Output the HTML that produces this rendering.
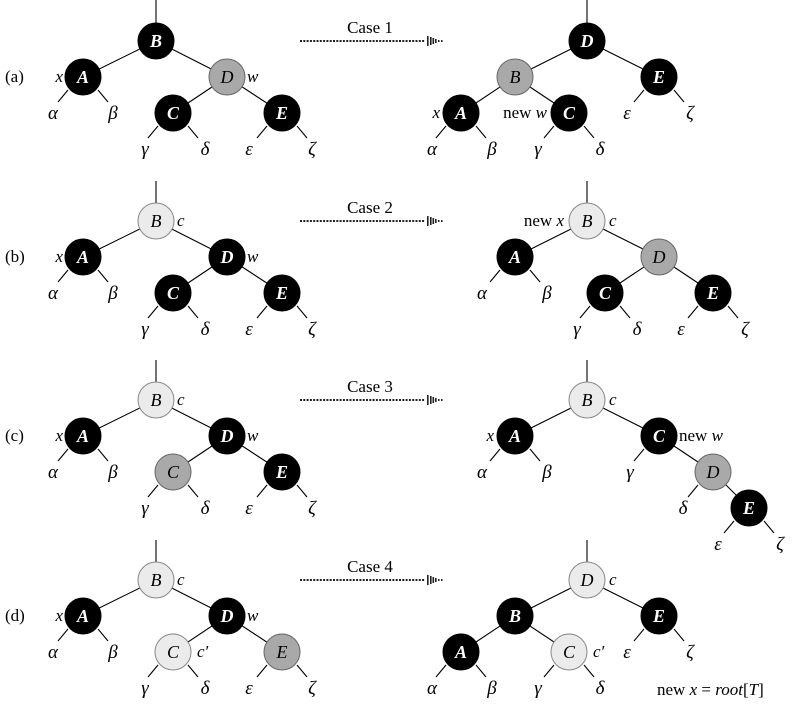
<!DOCTYPE html>
<html><head><meta charset="utf-8"><style>
html,body{margin:0;padding:0;background:#fff;}
svg{display:block;}
.n{font:bold italic 18px "Liberation Serif",serif;fill:#fff;text-anchor:middle;}
.gn{font:italic 18px "Liberation Serif",serif;fill:#000;text-anchor:middle;}
.g{font:italic 19px "Liberation Serif",serif;fill:#000;text-anchor:middle;}
.t{font:italic 17px "Liberation Serif",serif;fill:#000;}
.r{font:17px "Liberation Serif",serif;fill:#000;}
.m{text-anchor:middle;}
.e{text-anchor:end;}
line{stroke:#000;stroke-width:1.1;}
.bk{fill:#000;stroke:#000;}
.gr{fill:#a9a9a9;stroke:#666;stroke-width:1;}
.lt{fill:#ebebeb;stroke:#888;stroke-width:1;}
</style></head><body>
<svg width="793" height="709" viewBox="0 0 793 709" xmlns="http://www.w3.org/2000/svg">
<defs>
<g id="arr">
<line x1="300" y1="0" x2="425" y2="0" style="stroke:#222;stroke-width:2;stroke-dasharray:2 1.3"/>
<rect x="427" y="-5" width="1.6" height="10" fill="#222"/>
<rect x="430" y="-4" width="1.6" height="8" fill="#222"/>
<rect x="432.5" y="-3" width="1.6" height="6" fill="#222"/>
<rect x="435" y="-2" width="1.6" height="4" fill="#222"/>
<rect x="438" y="-1" width="1.5" height="2" fill="#222"/>
<rect x="441" y="-1" width="1.5" height="2" fill="#222"/>
</g>
</defs>

<!-- ===== Row (a) ===== -->
<text class="r" x="5" y="82">(a)</text>
<text class="r m" x="370" y="33">Case 1</text>
<use href="#arr" transform="translate(0,41)"/>
<line x1="156" y1="0" x2="156" y2="23"/>
<line x1="156" y1="41" x2="83" y2="77"/><line x1="156" y1="41" x2="227" y2="77"/>
<line x1="227" y1="77" x2="173" y2="113"/><line x1="227" y1="77" x2="282" y2="113"/>
<line x1="68" y1="90" x2="58" y2="102"/><line x1="98" y1="90" x2="108" y2="102"/>
<line x1="158" y1="126" x2="148" y2="138"/><line x1="188" y1="126" x2="198" y2="138"/>
<line x1="267" y1="126" x2="257" y2="138"/><line x1="297" y1="126" x2="307" y2="138"/>
<circle class="bk" cx="156" cy="41" r="18"/><text class="n" x="156" y="47">B</text>
<circle class="bk" cx="83" cy="77" r="18"/><text class="n" x="83" y="83">A</text>
<circle class="gr" cx="227" cy="77" r="18"/><text class="gn" x="227" y="83">D</text>
<circle class="bk" cx="173" cy="113" r="18"/><text class="n" x="173" y="119">C</text>
<circle class="bk" cx="282" cy="113" r="18"/><text class="n" x="282" y="119">E</text>
<text class="t e" x="63" y="82">x</text><text class="t" x="247" y="82">w</text>
<text class="g" x="53" y="119">α</text><text class="g" x="113" y="119">β</text>
<text class="g" x="145" y="155">γ</text><text class="g" x="205" y="155">δ</text>
<text class="g" x="249" y="155">ε</text><text class="g" x="312" y="155">ζ</text>
<line x1="587" y1="0" x2="587" y2="23"/>
<line x1="587" y1="41" x2="515" y2="77"/><line x1="587" y1="41" x2="659" y2="77"/>
<line x1="515" y1="77" x2="461" y2="113"/><line x1="515" y1="77" x2="569" y2="113"/>
<line x1="446" y1="126" x2="436" y2="138"/><line x1="476" y1="126" x2="486" y2="138"/>
<line x1="554" y1="126" x2="544" y2="138"/><line x1="584" y1="126" x2="594" y2="138"/>
<line x1="644" y1="90" x2="634" y2="102"/><line x1="674" y1="90" x2="684" y2="102"/>
<circle class="bk" cx="587" cy="41" r="18"/><text class="n" x="587" y="47">D</text>
<circle class="gr" cx="515" cy="77" r="18"/><text class="gn" x="515" y="83">B</text>
<circle class="bk" cx="659" cy="77" r="18"/><text class="n" x="659" y="83">E</text>
<circle class="bk" cx="461" cy="113" r="18"/><text class="n" x="461" y="119">A</text>
<circle class="bk" cx="569" cy="113" r="18"/><text class="n" x="569" y="119">C</text>
<text class="t e" x="440" y="118">x</text>
<text class="r e" x="547" y="118">new <tspan font-style="italic">w</tspan></text>
<text class="g" x="432" y="155">α</text><text class="g" x="492" y="155">β</text>
<text class="g" x="538" y="155">γ</text><text class="g" x="600" y="155">δ</text>
<text class="g" x="627" y="119">ε</text><text class="g" x="690" y="119">ζ</text>

<!-- ===== Row (b) ===== -->
<text class="r" x="5" y="262">(b)</text>
<text class="r m" x="370" y="213">Case 2</text>
<use href="#arr" transform="translate(0,221)"/>
<line x1="156" y1="181" x2="156" y2="203"/>
<line x1="156" y1="221" x2="83" y2="257"/><line x1="156" y1="221" x2="227" y2="257"/>
<line x1="227" y1="257" x2="173" y2="293"/><line x1="227" y1="257" x2="282" y2="293"/>
<line x1="68" y1="270" x2="58" y2="282"/><line x1="98" y1="270" x2="108" y2="282"/>
<line x1="158" y1="306" x2="148" y2="318"/><line x1="188" y1="306" x2="198" y2="318"/>
<line x1="267" y1="306" x2="257" y2="318"/><line x1="297" y1="306" x2="307" y2="318"/>
<circle class="lt" cx="156" cy="221" r="18"/><text class="gn" x="156" y="227">B</text>
<circle class="bk" cx="83" cy="257" r="18"/><text class="n" x="83" y="263">A</text>
<circle class="bk" cx="227" cy="257" r="18"/><text class="n" x="227" y="263">D</text>
<circle class="bk" cx="173" cy="293" r="18"/><text class="n" x="173" y="299">C</text>
<circle class="bk" cx="282" cy="293" r="18"/><text class="n" x="282" y="299">E</text>
<text class="t e" x="63" y="262">x</text><text class="t" x="247" y="262">w</text>
<text class="t" x="177" y="226">c</text>
<text class="g" x="53" y="299">α</text><text class="g" x="113" y="299">β</text>
<text class="g" x="145" y="335">γ</text><text class="g" x="205" y="335">δ</text>
<text class="g" x="249" y="335">ε</text><text class="g" x="312" y="335">ζ</text>
<line x1="587" y1="181" x2="587" y2="203"/>
<line x1="587" y1="221" x2="515" y2="257"/><line x1="587" y1="221" x2="659" y2="257"/>
<line x1="659" y1="257" x2="605" y2="293"/><line x1="659" y1="257" x2="713" y2="293"/>
<line x1="500" y1="270" x2="490" y2="282"/><line x1="530" y1="270" x2="540" y2="282"/>
<line x1="590" y1="306" x2="580" y2="318"/><line x1="620" y1="306" x2="630" y2="318"/>
<line x1="698" y1="306" x2="688" y2="318"/><line x1="728" y1="306" x2="738" y2="318"/>
<circle class="lt" cx="587" cy="221" r="18"/><text class="gn" x="587" y="227">B</text>
<circle class="bk" cx="515" cy="257" r="18"/><text class="n" x="515" y="263">A</text>
<circle class="gr" cx="659" cy="257" r="18"/><text class="gn" x="659" y="263">D</text>
<circle class="bk" cx="605" cy="293" r="18"/><text class="n" x="605" y="299">C</text>
<circle class="bk" cx="713" cy="293" r="18"/><text class="n" x="713" y="299">E</text>
<text class="r e" x="564" y="226">new <tspan font-style="italic">x</tspan></text>
<text class="t" x="609" y="226">c</text>
<text class="g" x="482" y="299">α</text><text class="g" x="547" y="299">β</text>
<text class="g" x="577" y="335">γ</text><text class="g" x="637" y="335">δ</text>
<text class="g" x="681" y="335">ε</text><text class="g" x="745" y="335">ζ</text>

<!-- ===== Row (c) ===== -->
<text class="r" x="5" y="441">(c)</text>
<text class="r m" x="370" y="392">Case 3</text>
<use href="#arr" transform="translate(0,400)"/>
<line x1="156" y1="360" x2="156" y2="382"/>
<line x1="156" y1="400" x2="83" y2="436"/><line x1="156" y1="400" x2="227" y2="436"/>
<line x1="227" y1="436" x2="173" y2="472"/><line x1="227" y1="436" x2="282" y2="472"/>
<line x1="68" y1="449" x2="58" y2="461"/><line x1="98" y1="449" x2="108" y2="461"/>
<line x1="158" y1="485" x2="148" y2="497"/><line x1="188" y1="485" x2="198" y2="497"/>
<line x1="267" y1="485" x2="257" y2="497"/><line x1="297" y1="485" x2="307" y2="497"/>
<circle class="lt" cx="156" cy="400" r="18"/><text class="gn" x="156" y="406">B</text>
<circle class="bk" cx="83" cy="436" r="18"/><text class="n" x="83" y="442">A</text>
<circle class="bk" cx="227" cy="436" r="18"/><text class="n" x="227" y="442">D</text>
<circle class="gr" cx="173" cy="472" r="18"/><text class="gn" x="173" y="478">C</text>
<circle class="bk" cx="282" cy="472" r="18"/><text class="n" x="282" y="478">E</text>
<text class="t e" x="63" y="441">x</text><text class="t" x="247" y="441">w</text>
<text class="t" x="177" y="405">c</text>
<text class="g" x="53" y="478">α</text><text class="g" x="113" y="478">β</text>
<text class="g" x="145" y="514">γ</text><text class="g" x="205" y="514">δ</text>
<text class="g" x="249" y="514">ε</text><text class="g" x="312" y="514">ζ</text>
<line x1="587" y1="360" x2="587" y2="382"/>
<line x1="587" y1="400" x2="515" y2="436"/><line x1="587" y1="400" x2="659" y2="436"/>
<line x1="659" y1="436" x2="713" y2="472"/><line x1="713" y1="472" x2="749" y2="508"/>
<line x1="500" y1="449" x2="490" y2="461"/><line x1="530" y1="449" x2="540" y2="461"/>
<line x1="644" y1="449" x2="634" y2="461"/>
<line x1="698" y1="485" x2="688" y2="497"/>
<line x1="734" y1="521" x2="724" y2="533"/><line x1="764" y1="521" x2="774" y2="533"/>
<circle class="lt" cx="587" cy="400" r="18"/><text class="gn" x="587" y="406">B</text>
<circle class="bk" cx="515" cy="436" r="18"/><text class="n" x="515" y="442">A</text>
<circle class="bk" cx="659" cy="436" r="18"/><text class="n" x="659" y="442">C</text>
<circle class="gr" cx="713" cy="472" r="18"/><text class="gn" x="713" y="478">D</text>
<circle class="bk" cx="749" cy="508" r="18"/><text class="n" x="749" y="514">E</text>
<text class="t e" x="494" y="441">x</text>
<text class="r" x="679" y="441">new <tspan font-style="italic">w</tspan></text>
<text class="t" x="609" y="405">c</text>
<text class="g" x="482" y="478">α</text><text class="g" x="547" y="478">β</text>
<text class="g" x="630" y="478">γ</text>
<text class="g" x="683" y="514">δ</text>
<text class="g" x="718" y="550">ε</text><text class="g" x="780" y="550">ζ</text>

<!-- ===== Row (d) ===== -->
<text class="r" x="5" y="621">(d)</text>
<text class="r m" x="370" y="572">Case 4</text>
<use href="#arr" transform="translate(0,580)"/>
<line x1="156" y1="540" x2="156" y2="562"/>
<line x1="156" y1="580" x2="83" y2="616"/><line x1="156" y1="580" x2="227" y2="616"/>
<line x1="227" y1="616" x2="173" y2="652"/><line x1="227" y1="616" x2="282" y2="652"/>
<line x1="68" y1="629" x2="58" y2="641"/><line x1="98" y1="629" x2="108" y2="641"/>
<line x1="158" y1="665" x2="148" y2="677"/><line x1="188" y1="665" x2="198" y2="677"/>
<line x1="267" y1="665" x2="257" y2="677"/><line x1="297" y1="665" x2="307" y2="677"/>
<circle class="lt" cx="156" cy="580" r="18"/><text class="gn" x="156" y="586">B</text>
<circle class="bk" cx="83" cy="616" r="18"/><text class="n" x="83" y="622">A</text>
<circle class="bk" cx="227" cy="616" r="18"/><text class="n" x="227" y="622">D</text>
<circle class="lt" cx="173" cy="652" r="18"/><text class="gn" x="173" y="658">C</text>
<circle class="gr" cx="282" cy="652" r="18"/><text class="gn" x="282" y="658">E</text>
<text class="t e" x="63" y="621">x</text><text class="t" x="247" y="621">w</text>
<text class="t" x="177" y="585">c</text>
<text class="t" x="197" y="657">c′</text>
<text class="g" x="53" y="658">α</text><text class="g" x="113" y="658">β</text>
<text class="g" x="145" y="694">γ</text><text class="g" x="205" y="694">δ</text>
<text class="g" x="249" y="694">ε</text><text class="g" x="312" y="694">ζ</text>
<line x1="587" y1="540" x2="587" y2="562"/>
<line x1="587" y1="580" x2="515" y2="616"/><line x1="587" y1="580" x2="659" y2="616"/>
<line x1="515" y1="616" x2="461" y2="652"/><line x1="515" y1="616" x2="569" y2="652"/>
<line x1="446" y1="665" x2="436" y2="677"/><line x1="476" y1="665" x2="486" y2="677"/>
<line x1="554" y1="665" x2="544" y2="677"/><line x1="584" y1="665" x2="594" y2="677"/>
<line x1="644" y1="629" x2="634" y2="641"/><line x1="674" y1="629" x2="684" y2="641"/>
<circle class="lt" cx="587" cy="580" r="18"/><text class="gn" x="587" y="586">D</text>
<circle class="bk" cx="515" cy="616" r="18"/><text class="n" x="515" y="622">B</text>
<circle class="bk" cx="659" cy="616" r="18"/><text class="n" x="659" y="622">E</text>
<circle class="bk" cx="461" cy="652" r="18"/><text class="n" x="461" y="658">A</text>
<circle class="lt" cx="569" cy="652" r="18"/><text class="gn" x="569" y="658">C</text>
<text class="t" x="609" y="585">c</text>
<text class="t" x="593" y="657">c′</text>
<text class="g" x="627" y="658">ε</text><text class="g" x="690" y="658">ζ</text>
<text class="g" x="432" y="694">α</text><text class="g" x="492" y="694">β</text>
<text class="g" x="538" y="694">γ</text><text class="g" x="600" y="694">δ</text>
<text class="r" x="657" y="695">new <tspan font-style="italic">x</tspan> = <tspan font-style="italic">root</tspan>[<tspan font-style="italic">T</tspan>]</text>
</svg>
</body></html>
